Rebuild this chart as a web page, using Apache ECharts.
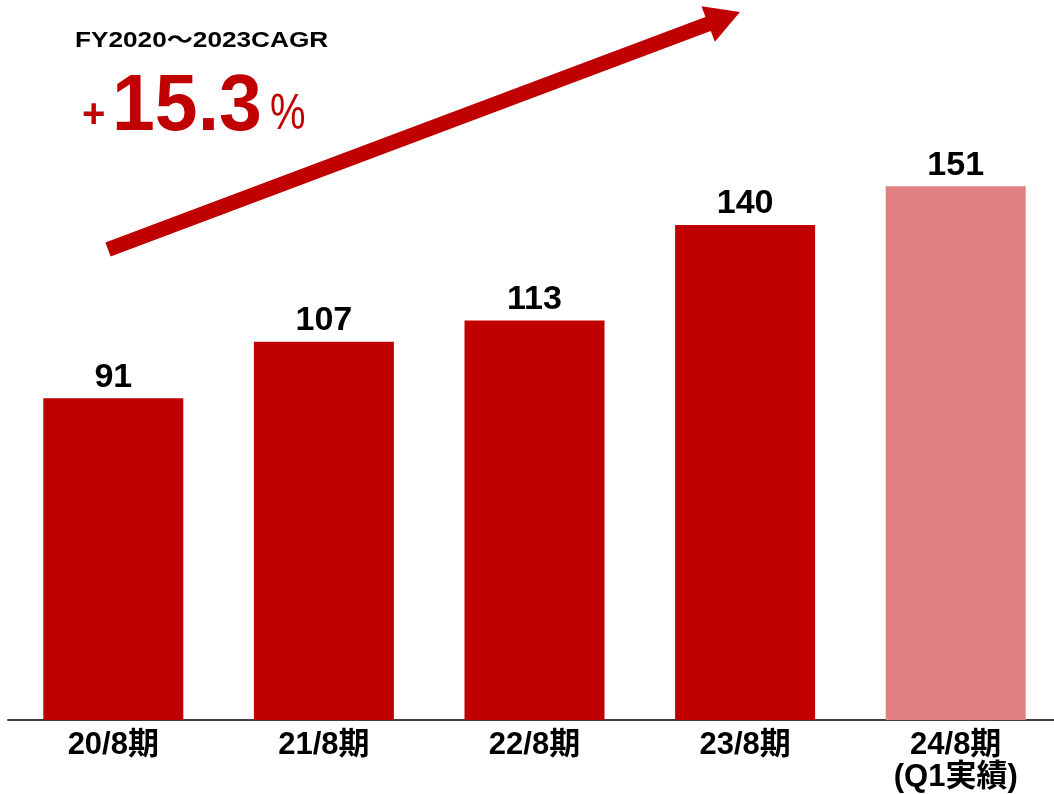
<!DOCTYPE html>
<html>
<head>
<meta charset="utf-8">
<script src="https://cdn.jsdelivr.net/npm/echarts@6/dist/echarts.min.js"></script>
<style>
  html, body { margin: 0; padding: 0; background: #fff; }
  #chart { width: 1054px; height: 794px; }
</style>
</head>
<body>
<div id="chart"></div>
<script>
const categories = ['20/8期', '21/8期', '22/8期', '23/8期', '24/8期\n(Q1実績)'];
const values = [91, 107, 113, 140, 151];
const barColors = ['#C00000', '#C00000', '#C00000', '#C00000', '#E08080'];
const cagrTitle = 'FY2020～2023CAGR';
const cagrValue = '15.3';

const FONT = '"Liberation Sans", Arial, "Noto Sans CJK JP", sans-serif';
const chart = echarts.init(document.getElementById('chart'));

// arrow: shaft + head, from lower-left to upper-right
function arrowGraphic(x1, y1, x2, y2, width, headLen, headWidth) {
    const ang = Math.atan2(y2 - y1, x2 - x1);
    const ux = Math.cos(ang), uy = Math.sin(ang);
    const px = -uy, py = ux;
    const bx = x2 - ux * headLen, by = y2 - uy * headLen;
    return [
        {
            type: 'line',
            shape: {x1: x1, y1: y1, x2: bx + ux * 2, y2: by + uy * 2},
            style: {stroke: '#C00000', lineWidth: width}
        },
        {
            type: 'polygon',
            shape: {points: [[x2, y2], [bx + px * headWidth / 2, by + py * headWidth / 2], [bx - px * headWidth / 2, by - py * headWidth / 2]]},
            style: {fill: '#C00000'}
        }
    ];
}

const option = {
    backgroundColor: '#fff',
    animation: false,
    grid: {left: 8, width: 1053, top: 13, bottom: 74, containLabel: false, outerBoundsMode: 'none'},
    xAxis: {
        type: 'category',
        data: categories,
        axisLine: {lineStyle: {color: '#404040', width: 2}},
        axisTick: {show: false},
        axisLabel: {
            color: '#000',
            fontSize: 31,
            fontWeight: 'bold',
            fontFamily: FONT,
            margin: 9,
            lineHeight: 32
        }
    },
    yAxis: {
        type: 'value',
        min: 0,
        max: 200,
        show: false,
        splitLine: {show: false}
    },
    series: [{
        type: 'bar',
        barWidth: 140,
        data: values.map((v, i) => ({value: v, itemStyle: {color: barColors[i]}})),
        label: {
            show: true,
            position: 'top',
            distance: 4,
            color: '#000',
            fontSize: 34,
            fontWeight: 'bold',
            fontFamily: FONT
        }
    }],
    graphic: [
        ...arrowGraphic(108, 249.5, 740, 12, 15, 34, 38),
        {
            type: 'text',
            x: 75,
            y: 30,
            scaleX: 1.19,
            style: {text: cagrTitle, fill: '#000', font: 'bold 22px ' + FONT, verticalAlign: 'top'}
        },
        {
            type: 'text',
            x: 82,
            y: 96,
            style: {text: '+', fill: '#C00000', font: 'bold 40px ' + FONT, verticalAlign: 'top'}
        },
        {
            type: 'text',
            x: 112,
            y: 68,
            scaleY: 1.04,
            style: {text: cagrValue, fill: '#C00000', font: 'bold 77px ' + FONT, verticalAlign: 'top'}
        },
        {
            type: 'text',
            x: 270,
            y: 90,
            scaleX: 0.8,
            style: {text: '%', fill: '#C00000', font: '50px ' + FONT, verticalAlign: 'top'}
        }
    ]
};
chart.setOption(option);
</script>
</body>
</html>
